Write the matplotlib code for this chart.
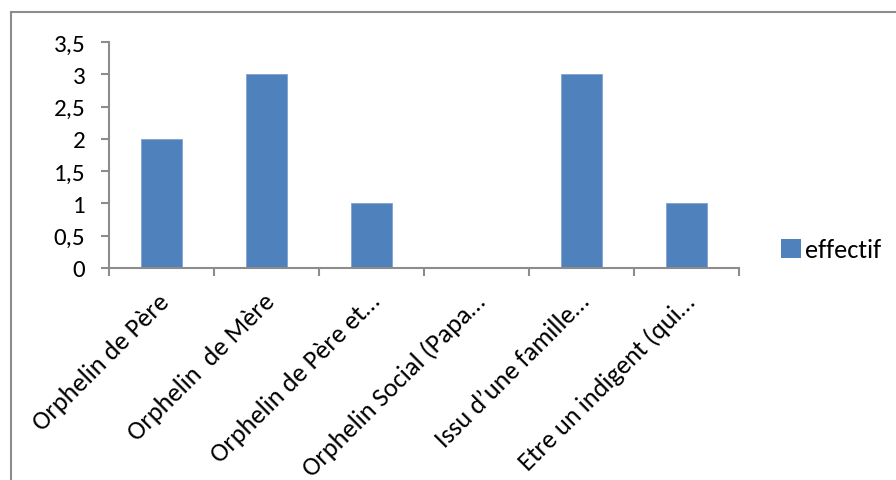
import matplotlib
matplotlib.use("Agg")
import matplotlib.pyplot as plt
from matplotlib.lines import Line2D
from matplotlib.patches import Patch
from matplotlib.transforms import ScaledTranslation

categories = [
    "Orphelin de Père",
    "Orphelin  de Mère",
    "Orphelin de Père et…",
    "Orphelin Social (Papa…",
    "Issu d’une famille…",
    "Etre un indigent (qui…",
]
effectif = [2, 3, 1, 0, 3, 1]
yticks = [0, 0.5, 1, 1.5, 2, 2.5, 3, 3.5]
ytick_labels = ["0", "0,5", "1", "1,5", "2", "2,5", "3", "3,5"]

plt.rcParams["font.family"] = ["Carlito", "DejaVu Sans"]

W, H = 896, 481
fig = plt.figure(figsize=(W / 100, H / 100), dpi=100)
fig.patch.set_facecolor("white")

# outer frame (top and left edges)
fig.add_artist(Line2D([11 / W, 1], [1 - 13 / H, 1 - 13 / H], color="#8c8c8c", lw=1.5))
fig.add_artist(Line2D([11 / W, 11 / W], [0, 1 - 13 / H], color="#8c8c8c", lw=1.5))

left, right, top, bottom = 109, 739, 43, 269
ax = fig.add_axes([left / W, 1 - bottom / H, (right - left) / W, (bottom - top) / H])

bar_color = "#4F81BD"
x = list(range(len(categories)))
ax.bar(x, effectif, width=0.39, color=bar_color, edgecolor="#7fa3d1", linewidth=0.6, zorder=2)

ax.set_xlim(-0.5, len(categories) - 0.5)
ax.set_ylim(0, 3.5)
ax.set_yticks(yticks)
ax.set_yticklabels(ytick_labels, fontsize=18)

ax.set_xticks([i - 0.5 for i in range(len(categories) + 1)])
ax.set_xticklabels([])
ax.set_xticks(x, minor=True)
ax.set_xticklabels(categories, minor=True, rotation=45, ha="right", va="top",
                   rotation_mode="anchor", fontsize=19)
ax.tick_params(axis="x", which="minor", length=0, pad=15)
ax.tick_params(axis="x", which="major", length=6, width=1.5, color="#8c8c8c", direction="out")
ax.tick_params(axis="y", length=6, width=1.5, color="#8c8c8c", direction="out", pad=11)

# nudge the slanted category labels slightly to the left
shift = ScaledTranslation(-4 / 100, 0, fig.dpi_scale_trans)
for lab in ax.get_xticklabels(minor=True):
    lab.set_transform(lab.get_transform() + shift)

for s in ("top", "right"):
    ax.spines[s].set_visible(False)
for s in ("left", "bottom"):
    ax.spines[s].set_color("#8c8c8c")
    ax.spines[s].set_linewidth(1.5)

handle = Patch(facecolor=bar_color, edgecolor="none")
fig.legend([handle], ["effectif"], loc="center left", bbox_to_anchor=(781 / W, 1 - 251 / H),
           frameon=False, fontsize=19, handlelength=0.75, handleheight=0.75,
           handletextpad=0.15, borderpad=0, borderaxespad=0)

fig.savefig("out.png", dpi=100, facecolor="white")
